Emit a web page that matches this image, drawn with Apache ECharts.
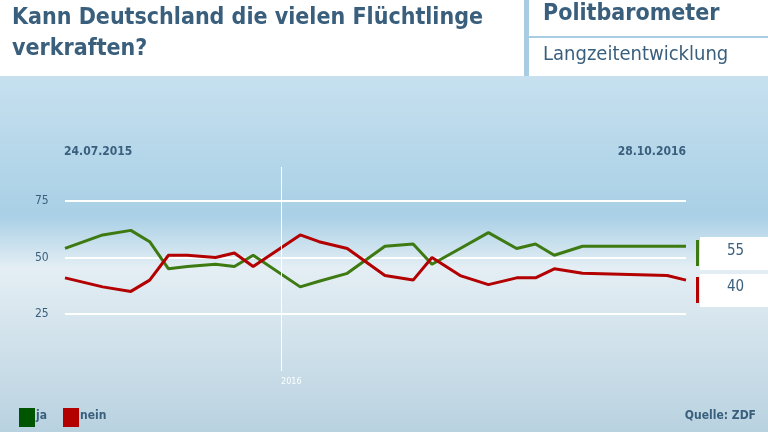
<!DOCTYPE html>
<html><head><meta charset="utf-8">
<script src="https://cdn.jsdelivr.net/npm/echarts@6/dist/echarts.min.js"></script>
<style>html,body{margin:0;padding:0}#c{width:768px;height:432px}</style>
</head><body><div id="c"></div>
<script>
// weeks since 24.07.2015
var weeks = [0, 4, 7, 9, 11, 13, 16, 18, 20, 25, 27, 30, 34, 37, 39, 42, 45, 48, 50, 52, 55, 64, 66];
var ja    = [54, 60, 62, 57, 45, 46, 47, 46, 51, 37, 39.5, 43, 55, 56, 47, 54, 61, 54, 56, 51, 55, 55, 55];
var nein  = [41, 37, 35, 40, 51, 51, 50, 52, 46, 60, 57, 54, 42, 40, 50, 42, 38, 41, 41, 45, 43, 42, 40];
var yTicks = [25, 50, 75];

var F = '"DejaVu Sans Condensed","Roboto Condensed","Liberation Sans Narrow",sans-serif';
var dark = '#3a5f7d';
function pts(v) { return weeks.map(function (w, i) { return [w, v[i]]; }); }

var chart = echarts.init(document.getElementById('c'));
chart.setOption({
  animation: false,
  backgroundColor: new echarts.graphic.LinearGradient(0, 0, 0, 1, [
    { offset: 0, color: '#d6e8f2' }, { offset: 0.2, color: '#c4dfee' },
    { offset: 0.5, color: '#a9d0e6' }, { offset: 0.62, color: '#e4eef4' },
    { offset: 1, color: '#b9d2e0' }]),
  grid: { left: 65, right: 82, top: 144.5, height: 226 },
  xAxis: { type: 'value', min: 0, max: 66, show: false },
  yAxis: {
    type: 'value', min: 0, max: 100, interval: 25,
    axisLine: { show: false }, axisTick: { show: false },
    axisLabel: { color: dark, fontFamily: F, fontSize: 12, margin: 30, align: 'left',
      formatter: function (v) { return yTicks.indexOf(v) >= 0 ? v : ''; } },
    splitLine: { lineStyle: { color: ['transparent', '#ffffff', '#ffffff', '#ffffff', 'transparent'], width: 2 } }
  },
  series: [
    { type: 'line', data: pts(ja), symbol: 'none', lineStyle: { color: '#3e7a12', width: 3 } },
    { type: 'line', data: pts(nein), symbol: 'none', lineStyle: { color: '#b30000', width: 3 } }
  ],
  graphic: [
    { type: 'rect', shape: { x: 0, y: 0, width: 768, height: 76 }, style: { fill: '#ffffff' } },
    { type: 'rect', shape: { x: 524, y: 0, width: 5, height: 76 }, style: { fill: '#a8cde2' } },
    { type: 'rect', shape: { x: 529, y: 36, width: 239, height: 2 }, style: { fill: '#a8cde2' } },
    { type: 'text', left: 12, top: 3, style: { text: 'Kann Deutschland die vielen Flüchtlinge\nverkraften?', fill: dark, font: 'bold 23px ' + F, lineHeight: 31 } },
    { type: 'text', left: 543, top: 3, style: { text: 'Politbarometer', fill: dark, font: 'bold 23px ' + F } },
    { type: 'text', left: 543, top: 45, style: { text: 'Langzeitentwicklung', fill: dark, font: '20px ' + F } },
    { type: 'text', left: 64, top: 146, style: { text: '24.07.2015', fill: dark, font: 'bold 12px ' + F } },
    { type: 'text', right: 82, top: 146, style: { text: '28.10.2016', fill: dark, font: 'bold 12px ' + F } },
    { type: 'rect', z: 10, shape: { x: 281, y: 167, width: 1, height: 204 }, style: { fill: '#ffffff' } },
    { type: 'text', left: 281, top: 377, style: { text: '2016', fill: '#ffffff', font: '9px ' + F } },
    { type: 'rect', shape: { x: 696, y: 240, width: 3, height: 26 }, style: { fill: '#3e7a12' } },
    { type: 'rect', shape: { x: 700, y: 237, width: 68, height: 33 }, style: { fill: '#ffffff' } },
    { type: 'text', left: 727, top: 244, style: { text: '55', fill: dark, font: '15px ' + F } },
    { type: 'rect', shape: { x: 696, y: 277, width: 3, height: 26 }, style: { fill: '#b30000' } },
    { type: 'rect', shape: { x: 700, y: 274, width: 68, height: 33 }, style: { fill: '#ffffff' } },
    { type: 'text', left: 727, top: 280, style: { text: '40', fill: dark, font: '15px ' + F } },
    { type: 'rect', shape: { x: 19, y: 408, width: 16, height: 19 }, style: { fill: '#005500' } },
    { type: 'text', left: 36, top: 410, style: { text: 'ja', fill: dark, font: 'bold 12px ' + F } },
    { type: 'rect', shape: { x: 63, y: 408, width: 16, height: 19 }, style: { fill: '#b30000' } },
    { type: 'text', left: 80, top: 410, style: { text: 'nein', fill: dark, font: 'bold 12px ' + F } },
    { type: 'text', right: 12, top: 410, style: { text: 'Quelle: ZDF', fill: dark, font: 'bold 12px ' + F } }
  ]
});
</script></body></html>
